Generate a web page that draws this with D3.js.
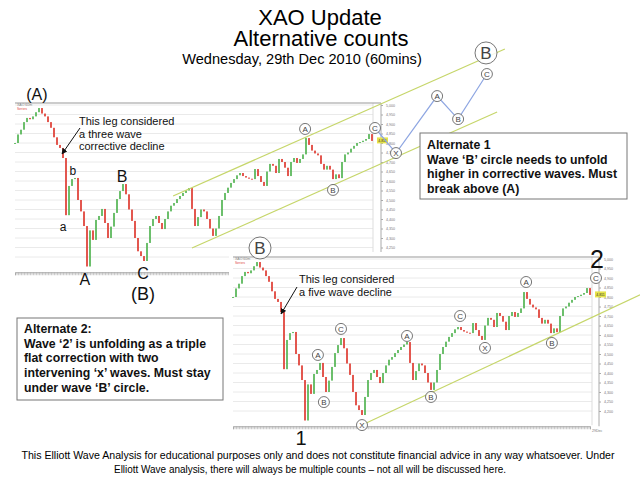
<!DOCTYPE html>
<html><head><meta charset="utf-8">
<script src="https://cdn.jsdelivr.net/npm/d3@7"></script>
<style>body{margin:0;background:#fff}svg{display:block}</style>
</head><body>
<svg id="c" width="640" height="481"></svg>
<script>
// ---- data (XAO 60-min closes) ----
const closes = [4800,4845,4870,4910,4932,4925,4940,4962,4984,4955,4940,4910,4880,4830,4790,4774,4721,4420,4574,4610,
4616,4500,4440,4363,4150,4340,4290,4395,4416,4453,4379,4300,4360,4432,4505,4547,4584,4530,4450,4390,
4300,4230,4205,4179,4274,4363,4400,4416,4379,4347,4400,4440,4470,4484,4505,4521,4537,4550,4563,4453,
4363,4410,4450,4440,4400,4350,4311,4350,4416,4500,4537,4565,4590,4610,4630,4642,4626,4618,4612,4610,
4663,4626,4595,4574,4650,4690,4680,4642,4716,4700,4670,4626,4700,4721,4695,4716,4740,4826,4790,4760,
4745,4735,4690,4660,4680,4660,4610,4635,4615,4700,4740,4750,4770,4785,4800,4805,4812,4821,4847,4811];
const topTicks = [5000,4950,4900,4850,4800,4750,4700,4650,4600,4550,4500,4450,4400,4350,4300,4250];
const botTicks = [5000,4950,4900,4850,4800,4750,4700,4650,4600,4550,4500,4450,4400,4350,4300,4250,4200];
const gridLevels = [5000,4950,4900,4850,4800,4750,4700,4650,4600,4550,4500,4450,4400,4350,4300,4250,4200];
const lastPrice = 4811;
// projection path for Alternate 1 (bar index, price)
const projection = [[120,4879],[127,4747],[140.7,5047],[147.7,4926],[157.3,5163]];
const projLabels = ["C","X","A","B","C"];
const topChannelUpper = [[52.7,4521],[163.3,5295]];
const topChannelLower = [[59,4247],[160.7,4963]];
const botTrend = [[43,4126],[135.7,4811]];
// circled labels [bar, price, text]
const topCircles = [[96.7,4874,"A"],[106,4553,"B"]];
const topBig = [[157,5274,"B"]];
const topLetters = [[7.3,5026,"(A)",16],[19.3,4632,"b",12],[16,4337,"a",12],[35.7,4595,"B",16],[23.3,4053,"A",16],[42.7,4084,"C",16],[42.7,3974,"(B)",18]];
const botCircles = [[28.3,4495,"A"],[30.3,4247,"B"],[36,4632,"C"],[43,4126,"X"],[58,4595,"A"],[66,4274,"B"],[75.7,4700,"C"],[84,4532,"X"],[97.7,4879,"A"],[106.3,4558,"B"],[121,4900,"C"]];
const botBig = [[9,5058,"B"]];
const botLetters = [[22.7,4021,"1",20],[121.3,4953,"2",25]];

const svg = d3.select("#c");
const FONT = "'Liberation Sans', Arial, sans-serif";
const up = "#5cb85c", down = "#e0453c", chan = "#c6d66a", blue = "#8ea6e2";

function panel(g, cfg) {
  const x = d3.scaleLinear().domain([0, closes.length - 1]).range([cfg.x0, cfg.x1]);
  const y = d3.scaleLinear().domain([4125, 5000]).range([cfg.yb, cfg.yt]);
  g.selectAll(".grid").data(gridLevels).join("line")
    .attr("x1", cfg.x0).attr("x2", cfg.gx).attr("y1", d => y(d)).attr("y2", d => y(d))
    .attr("stroke", "#e4e4e4").attr("stroke-width", 0.8);
  g.append("line").attr("x1", cfg.gx).attr("x2", cfg.gx).attr("y1", cfg.yt - 2).attr("y2", cfg.yb)
    .attr("stroke", "#ddd");
  g.append("line").attr("x1", cfg.x0).attr("x2", cfg.ax).attr("y1", cfg.yt - 2).attr("y2", cfg.yt - 2)
    .attr("stroke", "#999").attr("stroke-width", 1.2);
  g.append("line").attr("x1", cfg.ax).attr("x2", cfg.ax).attr("y1", cfg.yt - 2).attr("y2", cfg.yb + 1)
    .attr("stroke", "#aaa");
  const ya = d3.axisRight(y).tickValues(cfg.ticks).tickSize(2).tickFormat(d3.format(","));
  const ag = g.append("g").attr("transform", `translate(${cfg.ax},0)`).call(ya);
  ag.select(".domain").remove();
  ag.selectAll("text").attr("font-size", 3.6).attr("fill", "#777").attr("font-family", FONT);
  ag.selectAll("line").attr("stroke", "#aaa");
  const xa = d3.axisBottom(x).tickValues(d3.range(0, closes.length - 0.5, 0.5)).tickSize(3).tickFormat("");
  const bg = g.append("g").attr("transform", `translate(0,${cfg.yb + 1})`).call(xa);
  bg.select(".domain").attr("stroke", "#aaa");
  bg.selectAll("line").attr("stroke", "#aaa").attr("stroke-width", 0.6);
  g.append("text").attr("x", cfg.x0 + 2).attr("y", cfg.yt + 0.5).attr("font-size", 3.5).attr("fill", "#888")
    .attr("font-family", FONT).text("XAO  60m");
  g.append("text").attr("x", cfg.x0 + 2).attr("y", cfg.yt + 5).attr("font-size", 3.5).attr("fill", "#d44")
    .attr("font-family", FONT).text("Series");
  const bars = closes.map((c, i) => ({ i, o: i ? closes[i - 1] : c, c }));
  g.selectAll(".cd").data(bars).join("rect")
    .attr("x", d => x(d.i) - 0.9).attr("width", 1.8)
    .attr("y", d => y(Math.max(d.o, d.c)))
    .attr("height", d => Math.max(1, Math.abs(y(d.o) - y(d.c))))
    .attr("fill", d => d.c >= d.o ? up : down);
  g.append("rect").attr("x", cfg.ax - 4).attr("y", y(lastPrice) - 3.5).attr("width", 11).attr("height", 6)
    .attr("fill", "#e6e34a");
  g.append("text").attr("x", cfg.ax + 1.5).attr("y", y(lastPrice) + 1.2).attr("font-size", 3.5)
    .attr("text-anchor", "middle").attr("font-family", FONT).attr("fill", "#333").text(d3.format(",")(lastPrice));
  return { x, y };
}

function circled(g, x, y, data, r, fs) {
  const s = g.selectAll(null).data(data).join("g")
    .attr("transform", d => `translate(${x(d[0])},${y(d[1])})`);
  s.append("circle").attr("r", r).attr("fill", "#fff").attr("fill-opacity", 0.85)
    .attr("stroke", "#666").attr("stroke-width", 0.9);
  s.append("text").attr("text-anchor", "middle").attr("dy", "0.36em").attr("font-size", fs)
    .attr("font-family", FONT).attr("fill", "#444").text(d => d[2]);
}
function letters(g, x, y, data) {
  g.selectAll(null).data(data).join("text")
    .attr("x", d => x(d[0])).attr("y", d => y(d[1])).attr("text-anchor", "middle")
    .attr("font-size", d => d[3]).attr("font-family", FONT).attr("fill", "#111").text(d => d[2]);
}

svg.append("defs").append("marker").attr("id", "ah").attr("viewBox", "0 0 10 10").attr("refX", 9).attr("refY", 5)
  .attr("markerWidth", 6).attr("markerHeight", 6).attr("orient", "auto")
  .append("path").attr("d", "M0,0 L10,5 L0,10 z").attr("fill", "#111");

// ---- titles ----
svg.append("text").attr("x", 320).attr("y", 25).attr("text-anchor", "middle").attr("font-size", 22)
  .attr("font-family", FONT).text("XAO Update");
svg.append("text").attr("x", 321).attr("y", 46).attr("text-anchor", "middle").attr("font-size", 22)
  .attr("font-family", FONT).text("Alternative counts");
svg.append("text").attr("x", 302).attr("y", 64).attr("text-anchor", "middle").attr("font-size", 14.6)
  .attr("font-family", FONT).text("Wednesday, 29th Dec 2010 (60mins)");

// ---- top panel ----
const topG = svg.append("g");
const T = panel(topG, { x0: 15, x1: 372, gx: 373, ax: 381, yt: 105, yb: 271.25, ticks: topTicks });
const line = (s) => d3.line().x(d => s.x(d[0])).y(d => s.y(d[1]));
topG.append("path").attr("d", line(T)(topChannelUpper)).attr("stroke", chan).attr("stroke-width", 1.2).attr("fill", "none");
topG.append("path").attr("d", line(T)(topChannelLower)).attr("stroke", chan).attr("stroke-width", 1.2).attr("fill", "none");
topG.append("path").attr("d", line(T)(projection)).attr("stroke", blue).attr("stroke-width", 1.2).attr("fill", "none");
circled(topG, T.x, T.y, topCircles, 5.5, 8);
circled(topG, T.x, T.y, projection.map((p, k) => [p[0], p[1], projLabels[k]]), 5.5, 8);
circled(topG, T.x, T.y, topBig, 11, 17);
letters(topG, T.x, T.y, topLetters);
const ann1 = ["This leg considered", "a three wave", "corrective decline"];
topG.selectAll(null).data(ann1).join("text").attr("x", 79).attr("y", (d, k) => 125 + k * 12.5)
  .attr("font-size", 11).attr("font-family", FONT).attr("fill", "#111").text(d => d);
topG.append("line").attr("x1", 80).attr("y1", 128).attr("x2", 62).attr("y2", 154)
  .attr("stroke", "#111").attr("stroke-width", 1).attr("marker-end", "url(#ah)");

// Alternate 1 box
svg.append("rect").attr("x", 420).attr("y", 133).attr("width", 207).attr("height", 66)
  .attr("fill", "#fff").attr("stroke", "#777").attr("stroke-width", 1);
const alt1 = ["Alternate 1", "Wave \u2018B\u2019 circle needs to unfold", "higher in corrective waves. Must", "break above (A)"];
svg.selectAll(null).data(alt1).join("text").attr("x", 427).attr("y", (d, k) => 149 + k * 14.6)
  .attr("font-size", 12.3).attr("font-weight", "bold").attr("font-family", FONT).attr("fill", "#111").text(d => d);

// ---- bottom panel ----
svg.append("rect").attr("x", 229).attr("y", 252).attr("width", 411).attr("height", 180).attr("fill", "#fff");
const botG = svg.append("g");
const B = panel(botG, { x0: 233, x1: 590, gx: 592, ax: 599, yt: 259, yb: 425.25, ticks: botTicks });
botG.append("text").attr("x", 592).attr("y", 432).attr("font-size", 3.6).attr("fill", "#777")
  .attr("font-family", FONT).text("29Dec");
botG.append("path").attr("d", line(B)(botTrend)).attr("stroke", chan).attr("stroke-width", 1.2).attr("fill", "none");
circled(botG, B.x, B.y, botCircles, 5.5, 8);
circled(botG, B.x, B.y, botBig, 11, 17);
letters(botG, B.x, B.y, botLetters);
const ann2 = ["This leg considered", "a five wave decline"];
botG.selectAll(null).data(ann2).join("text").attr("x", 299).attr("y", (d, k) => 283 + k * 12.5)
  .attr("font-size", 11).attr("font-family", FONT).attr("fill", "#111").text(d => d);
botG.append("line").attr("x1", 297).attr("y1", 287).attr("x2", 281).attr("y2", 314)
  .attr("stroke", "#111").attr("stroke-width", 1).attr("marker-end", "url(#ah)");

// Alternate 2 box
svg.append("rect").attr("x", 17).attr("y", 318).attr("width", 206).attr("height", 82)
  .attr("fill", "#fff").attr("stroke", "#777").attr("stroke-width", 1);
const alt2 = ["Alternate 2:", "Wave \u20182\u2019 is unfolding as a triple", "flat correction with two", "intervening \u2018x\u2019 waves. Must stay", "under wave \u2018B\u2019 circle."];
svg.selectAll(null).data(alt2).join("text").attr("x", 24).attr("y", (d, k) => 333 + k * 14.7)
  .attr("font-size", 12.3).attr("font-weight", "bold").attr("font-family", FONT).attr("fill", "#111").text(d => d);

// footer
svg.append("text").attr("x", 318).attr("y", 459).attr("text-anchor", "middle").attr("font-size", 11)
  .attr("font-family", "'Liberation Sans Narrow', 'Liberation Sans', Arial, sans-serif")
  .attr("textLength", 593).attr("lengthAdjust", "spacingAndGlyphs")
  .text("This Elliott Wave Analysis for educational purposes only and does not constitute financial advice in any way whatsoever. Under");
svg.append("text").attr("x", 310).attr("y", 473).attr("text-anchor", "middle").attr("font-size", 11)
  .attr("font-family", "'Liberation Sans Narrow', 'Liberation Sans', Arial, sans-serif")
  .attr("textLength", 392).attr("lengthAdjust", "spacingAndGlyphs")
  .text("Elliott Wave analysis, there will always be multiple counts \u2013 not all will be discussed here.");
</script>
</body></html>
